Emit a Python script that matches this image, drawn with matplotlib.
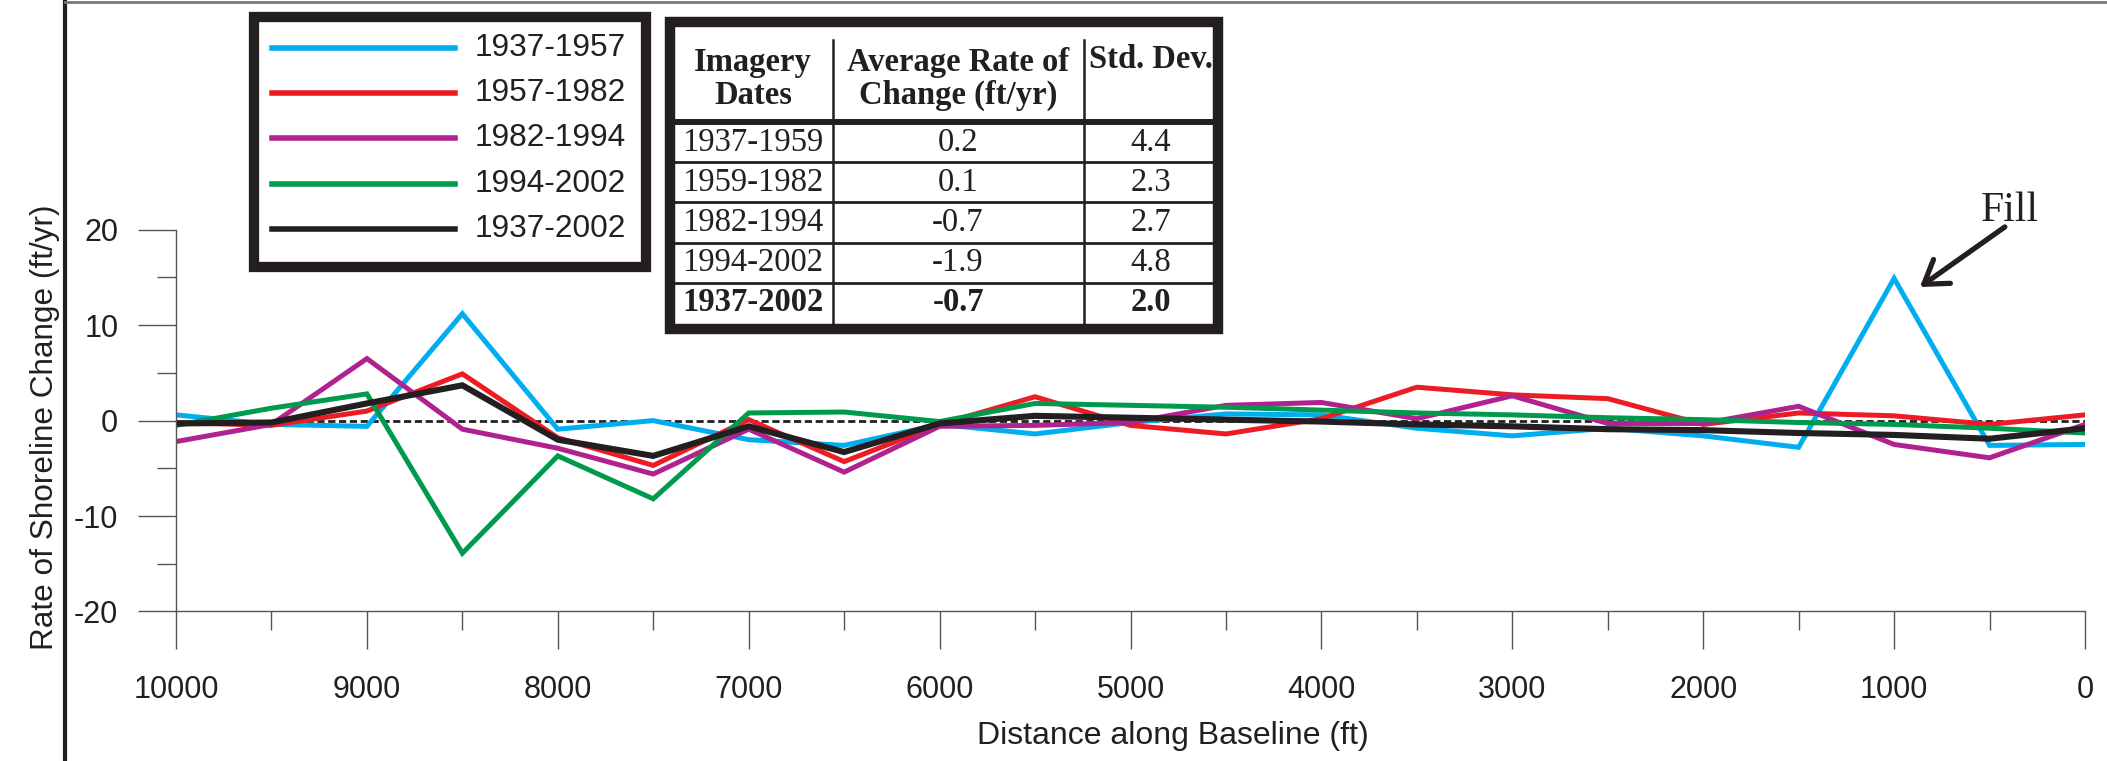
import matplotlib
matplotlib.use('Agg')
import matplotlib.pyplot as plt
from matplotlib.patches import Rectangle
from matplotlib.lines import Line2D
from matplotlib.ticker import MultipleLocator

plt.rcParams['axes.unicode_minus'] = False

# distance along baseline (ft)
distance = [10000, 9500, 9000, 8500, 8000, 7500, 7000, 6500, 6000, 5500, 5000,
            4500, 4000, 3500, 3000, 2500, 2000, 1500, 1000, 500, 0]

# rate of shoreline change (ft/yr)
rate_1937_1957 = [0.6, -0.4, -0.6, 11.2, -0.9, 0.0, -2.0, -2.6, -0.4, -1.4, -0.2,
                  0.7, 0.6, -0.8, -1.6, -0.8, -1.6, -2.8, 14.9, -2.6, -2.5]
rate_1957_1982 = [-0.2, -0.5, 1.0, 4.9, -1.8, -4.7, 0.1, -4.3, -0.4, 2.5, -0.5,
                  -1.4, 0.2, 3.5, 2.7, 2.3, -0.4, 0.8, 0.5, -0.4, 0.6]
rate_1982_1994 = [-2.2, -0.4, 6.5, -0.9, -2.9, -5.6, -0.9, -5.4, -0.6, -0.5, -0.2,
                  1.6, 1.9, 0.2, 2.6, -0.3, -0.3, 1.5, -2.5, -3.9, -0.4]
rate_1994_2002 = [-0.5, 1.3, 2.8, -13.9, -3.7, -8.2, 0.8, 0.9, -0.1, 1.8, 1.6,
                  1.4, 1.1, 0.8, 0.6, 0.3, 0.1, -0.2, -0.4, -0.8, -1.3]
rate_1937_2002 = [-0.3, -0.2, 1.8, 3.7, -2.0, -3.7, -0.6, -3.3, -0.3, 0.5, 0.3,
                  0.1, -0.1, -0.4, -0.6, -0.9, -1.0, -1.3, -1.5, -1.9, -0.8]

series = [rate_1937_1957, rate_1957_1982, rate_1982_1994, rate_1994_2002, rate_1937_2002]
labels = ['1937-1957', '1957-1982', '1982-1994', '1994-2002', '1937-2002']
colors = ['#00AEEF', '#ED1C24', '#B0228E', '#009A4E', '#231F20']
widths = [3.6, 3.6, 3.6, 3.6, 4.4]

# summary table
table_header = ['Imagery\nDates', 'Average Rate of\nChange (ft/yr)', 'Std. Dev.']
table_dates = ['1937-1959', '1959-1982', '1982-1994', '1994-2002', '1937-2002']
table_avg = ['0.2', '0.1', '-0.7', '-1.9', '-0.7']
table_std = ['4.4', '2.3', '2.7', '4.8', '2.0']

W, H = 2107, 761
def fx(px):
    return px / W
def fy(py):
    return 1 - py / H

sans = 'Liberation Sans'
serif = 'Liberation Serif'
dark = '#231F20'

fig = plt.figure(figsize=(W / 100, H / 100), dpi=100)
ax = fig.add_axes([fx(176), fy(611.4), (2085 - 176) / W, (611.4 - 229.8) / H])

for s, lab, c, lw in zip(series, labels, colors, widths):
    ax.plot(distance, s, color=c, lw=lw, label=lab, solid_joinstyle='miter')

# zero reference line
ax.plot([distance[0], distance[-1]], [0, 0], color=dark, lw=2.0,
        linestyle=(0, (2.6, 1.3)), zorder=1)

ax.set_xlim(10000, 0)
ax.set_ylim(-20, 20)
ax.xaxis.set_major_locator(MultipleLocator(1000))
ax.xaxis.set_minor_locator(MultipleLocator(500))
ax.yaxis.set_major_locator(MultipleLocator(10))
ax.yaxis.set_minor_locator(MultipleLocator(5))
ax.spines['top'].set_visible(False)
ax.spines['right'].set_visible(False)
for sp in ['left', 'bottom']:
    ax.spines[sp].set_color('#555555')
    ax.spines[sp].set_linewidth(1.0)
ax.tick_params(which='major', direction='out', length=27.5, width=1.0,
               color='#555555', labelsize=22, labelcolor=dark)
ax.tick_params(which='minor', direction='out', length=14, width=1.0, color='#555555')
ax.tick_params(axis='y', which='major', pad=14)
ax.tick_params(axis='x', which='major', pad=18)
for t in ax.get_xticklabels() + ax.get_yticklabels():
    t.set_fontfamily(sans)

fig.text(fx(45), fy(427), 'Rate of Shoreline Change (ft/yr)', rotation=90,
         ha='center', va='center', fontsize=22.7, family=sans, color=dark)
fig.text(fx(1173), fy(736), 'Distance along Baseline (ft)', ha='center', va='center',
         fontsize=23, family=sans, color=dark)

# Fill annotation
ax.annotate('', xy=(865, 14.0), xytext=(420, 20.3),
            arrowprops=dict(arrowstyle='->,head_length=1.6,head_width=1.05',
                            color=dark, lw=3.8, shrinkA=0, shrinkB=0),
            annotation_clip=False)
fig.text(fx(2010), fy(211), 'Fill', ha='center', va='center', fontsize=30,
         family=serif, color=dark)

# frame lines of the original figure
fig.add_artist(Line2D([fx(65), fx(65)], [0, 1], color=dark, lw=3.0))
fig.add_artist(Line2D([fx(65), 1], [fy(1.5), fy(1.5)], color='#777777', lw=2.0))

# legend box
fig.add_artist(Rectangle((fx(253.9), fy(267)), fx(646.2) - fx(253.9), fy(16.7) - fy(267),
                         fill=False, ec=dark, lw=7.4))
rows_y = [47.7, 93, 138.3, 183.7, 229]
for ry, lab, c in zip(rows_y, labels, colors):
    fig.add_artist(Line2D([fx(272), fx(454.5)], [fy(ry), fy(ry)], color=c, lw=4.0))
    fig.text(fx(475), fy(ry), lab, ha='left', va='center', fontsize=22.8,
             family=sans, color=dark)

# table
fig.add_artist(Rectangle((fx(669.8), fy(328.9)), fx(1217.8) - fx(669.8), fy(22.2) - fy(328.9),
                         fill=False, ec=dark, lw=7.5))
fig.add_artist(Line2D([fx(675), fx(1212.6)], [fy(121.5), fy(121.5)], color=dark, lw=4.3))
for ry in [161.7, 201.7, 242.7, 283.3]:
    fig.add_artist(Line2D([fx(675), fx(1212.6)], [fy(ry), fy(ry)], color=dark, lw=2.0))
for cx in [832.5, 1083.6]:
    fig.add_artist(Line2D([fx(cx), fx(cx)], [fy(40), fy(322.7)], color=dark, lw=1.8))

col_x = [753, 958, 1151]
tsize = 23.5
fig.text(fx(col_x[0]), fy(79), table_header[0], ha='center', va='center', fontsize=tsize,
         family=serif, weight='bold', color=dark, linespacing=1.1)
fig.text(fx(col_x[1]), fy(79), table_header[1], ha='center', va='center', fontsize=tsize,
         family=serif, weight='bold', color=dark, linespacing=1.1)
fig.text(fx(col_x[2]), fy(60), table_header[2], ha='center', va='center', fontsize=tsize,
         family=serif, weight='bold', color=dark)
row_cy = [143, 183, 223, 263, 302]
for i, (d, a, s) in enumerate(zip(table_dates, table_avg, table_std)):
    wt = 'bold' if i == len(table_dates) - 1 else 'normal'
    for cx, txt in zip(col_x, [d, a, s]):
        fig.text(fx(cx), fy(row_cy[i]), txt, ha='center', va='center', fontsize=tsize,
                 family=serif, weight=wt, color=dark)

fig.savefig('out.png', dpi=100)
